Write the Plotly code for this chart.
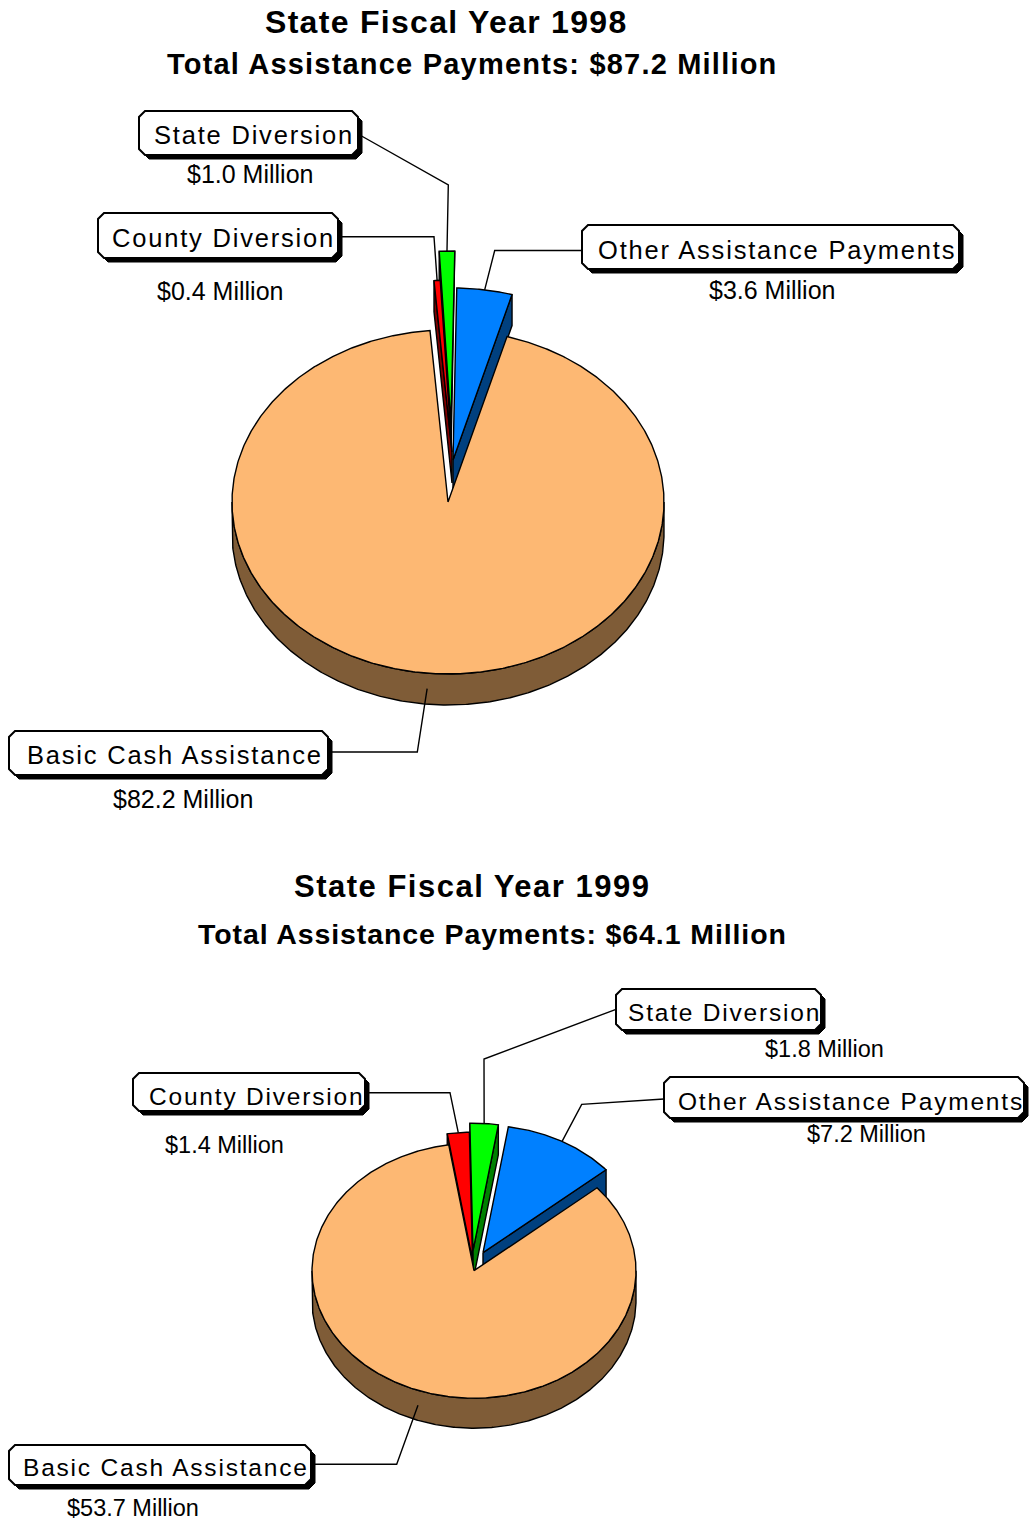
import numpy as np
import plotly.graph_objects as go

W, H = 1029, 1522

# ---- data ($ millions) ----
categories = ["Other Assistance Payments", "Basic Cash Assistance",
              "County Diversion", "State Diversion"]
payments_1998 = [3.6, 82.2, 0.4, 1.0]
payments_1999 = [7.2, 53.7, 1.4, 1.8]
total_1998 = 87.2
total_1999 = 64.1

# ---- styling ----
top_colors = ["#0080FF", "#FDB873", "#FF0000", "#00FF00"]
side_colors = ["#00407F", "#7F5C37", "#800000", "#008000"]
FONT = "Liberation Sans, Arial, sans-serif"
OUTLINE = 1.4

# 3-D pie geometry (pixels): centre, radii, thickness, first-slice angle,
# and the explode offset of each slice
pies = [
    dict(values=payments_1998, total=total_1998, year="1998",
         cx=448, cy=502, rx=216, ry=172, depth=31, start=1.0,
         pulls=[(5, -42), (0, 0), (4, -50), (3, -79)],
         title=(446, 22, 32, 1.3), subtitle=(471.5, 64, 29, 1.2),
         label_size=25.5, label_ls=1.8, value_size=25,
         boxes=[  # (x0, y0, x1, y1), text xy, value xy, leader start, elbow
             dict(box=(582, 225, 959, 269), text=(777, 250), value=(772, 290),
                  start=(582, 250.5), elbow=(494.7, 250.5)),
             dict(box=(9, 731, 328, 775), text=(175, 754.5), value=(183, 799),
                  start=(328, 752), elbow=(417.3, 752)),
             dict(box=(98, 213, 338, 258), text=(223.5, 237.5), value=(220, 290.5),
                  start=(338, 236.7), elbow=(434, 236.7)),
             dict(box=(139, 111, 358, 155), text=(253.5, 135), value=(250, 174),
                  start=(358, 134), elbow=(448.3, 185)),
         ]),
    dict(values=payments_1999, total=total_1999, year="1999",
         cx=474, cy=1270.7, rx=162, ry=127.5, depth=30, start=9.0,
         pulls=[(9, -18), (0, 0), (-1.5, -11), (-1, -20)],
         title=(471.5, 886, 31, 1.5), subtitle=(492.5, 934, 28.5, 0.9),
         label_size=24.5, label_ls=1.8, value_size=23.5,
         boxes=[
             dict(box=(664, 1077, 1024, 1118), text=(851, 1101.7), value=(866, 1134),
                  start=(664, 1099), elbow=(581.7, 1104.3)),
             dict(box=(9, 1445, 311, 1485), text=(166, 1467.3), value=(132.5, 1508.3),
                  start=(311, 1464.3), elbow=(396.7, 1464.3)),
             dict(box=(133, 1073, 365, 1111), text=(256, 1096), value=(224, 1144.7),
                  start=(365, 1092.7), elbow=(450, 1092.7)),
             dict(box=(616, 989, 821, 1030), text=(724, 1012), value=(824, 1049),
                  start=(616, 1009.3), elbow=(484, 1059)),
         ]),
]


def ell(cx, cy, rx, ry, deg):
    t = np.radians(deg)
    return cx + rx * np.sin(t), cy - ry * np.cos(t)


def arc(cx, cy, rx, ry, a0, a1):
    n = max(3, int(abs(a1 - a0) * 2) + 2)
    t = np.radians(np.linspace(a0, a1, n))
    return list(cx + rx * np.sin(t)), list(cy - ry * np.cos(t))


def poly(xs, ys, color):
    return go.Scatter(x=xs + [xs[0]], y=ys + [ys[0]], mode="lines", fill="toself",
                      fillcolor=color, line=dict(color="black", width=OUTLINE),
                      hoverinfo="skip", showlegend=False)


fig = go.Figure()
shapes = []
annotations = []


def chamfer_path(x0, y0, x1, y1, c=6):
    return (f"M{x0 + c},{y0} L{x1 - c},{y0} L{x1},{y0 + c} L{x1},{y1 - c} "
            f"L{x1 - c},{y1} L{x0 + c},{y1} L{x0},{y1 - c} L{x0},{y0 + c} Z")


for pie in pies:
    vals = pie["values"]
    total = sum(vals)
    cx, cy, rx, ry, d = pie["cx"], pie["cy"], pie["rx"], pie["ry"], pie["depth"]

    # slice angle ranges, clockwise from 12 o'clock
    spans = []
    a = pie["start"]
    for v in vals:
        b = a + 360.0 * v / total
        spans.append((a, b))
        a = b

    # back-to-front drawing order
    order = sorted(range(len(vals)),
                   key=lambda i: -np.cos(np.radians(sum(spans[i]) / 2)))
    anchors = {}
    for i in order:
        a, b = spans[i]
        ox, oy = pie["pulls"][i]
        px, py = cx + ox, cy + oy
        top, side = top_colors[i], side_colors[i]
        # radial cut faces
        for ang, visible in ((a, np.sin(np.radians(a)) < 0),
                             (b, np.sin(np.radians(b)) > 0)):
            if visible:
                ex, ey = ell(px, py, rx, ry, ang)
                fig.add_trace(poly([px, ex, ex, px], [py, ey, ey + d, py + d], side))
        # outer rim (front half only)
        lo, hi = max(a, 90), min(b, 270)
        if hi > lo:
            tx, ty = arc(px, py, rx, ry, lo, hi)
            fig.add_trace(poly(tx + tx[::-1], ty + [y + d for y in ty[::-1]], side))
        # top face
        tx, ty = arc(px, py, rx, ry, a, b)
        fig.add_trace(poly([px] + tx, [py] + ty, top))

        mid = (a + b) / 2
        mx, my = ell(px, py, rx, ry, mid)
        if np.cos(np.radians(mid)) < 0:
            my += d / 2
        anchors[i] = (mx, my)

    # leader lines, label boxes and value captions
    for i, spec in enumerate(pie["boxes"]):
        sx, sy = spec["start"]
        ex, ey = spec["elbow"]
        ax, ay = anchors[i]
        fig.add_trace(go.Scatter(x=[sx, ex, ax], y=[sy, ey, ay], mode="lines",
                                 line=dict(color="black", width=1.4),
                                 hoverinfo="skip", showlegend=False))
        x0, y0, x1, y1 = spec["box"]
        shapes.append(dict(type="path", path=chamfer_path(x0 + 4, y0 + 4, x1 + 4, y1 + 4),
                           xref="x", yref="y", fillcolor="black",
                           line=dict(color="black", width=1), layer="above"))
        shapes.append(dict(type="path", path=chamfer_path(x0, y0, x1, y1),
                           xref="x", yref="y", fillcolor="white",
                           line=dict(color="black", width=2), layer="above"))
        tx, ty = spec["text"]
        annotations.append(dict(
            x=tx, y=ty, xref="x", yref="y", showarrow=False,
            xanchor="center", yanchor="middle",
            text=f'<span style="letter-spacing:{pie["label_ls"]}px">{categories[i]}</span>',
            font=dict(family=FONT, size=pie["label_size"], color="black")))
        vx, vy = spec["value"]
        annotations.append(dict(
            x=vx, y=vy, xref="x", yref="y", showarrow=False,
            xanchor="center", yanchor="middle",
            text=f"${vals[i]:.1f} Million",
            font=dict(family=FONT, size=pie["value_size"], color="black")))

    # titles
    x, y, s, ls = pie["title"]
    annotations.append(dict(
        x=x, y=y, xref="x", yref="y", showarrow=False, xanchor="center", yanchor="middle",
        text=f'<b><span style="letter-spacing:{ls}px">State Fiscal Year {pie["year"]}</span></b>',
        font=dict(family=FONT, size=s, color="black")))
    x, y, s, ls = pie["subtitle"]
    annotations.append(dict(
        x=x, y=y, xref="x", yref="y", showarrow=False, xanchor="center", yanchor="middle",
        text=(f'<b><span style="letter-spacing:{ls}px">Total Assistance Payments: '
              f'${pie["total"]:.1f} Million</span></b>'),
        font=dict(family=FONT, size=s, color="black")))

fig.update_layout(
    width=W, height=H, autosize=False,
    margin=dict(l=0, r=0, t=0, b=0),
    paper_bgcolor="white", plot_bgcolor="white",
    xaxis=dict(range=[0, W], visible=False, fixedrange=True),
    yaxis=dict(range=[H, 0], visible=False, fixedrange=True),
    shapes=shapes, annotations=annotations, showlegend=False,
)

fig.write_html("out.html", config={"displayModeBar": False})
